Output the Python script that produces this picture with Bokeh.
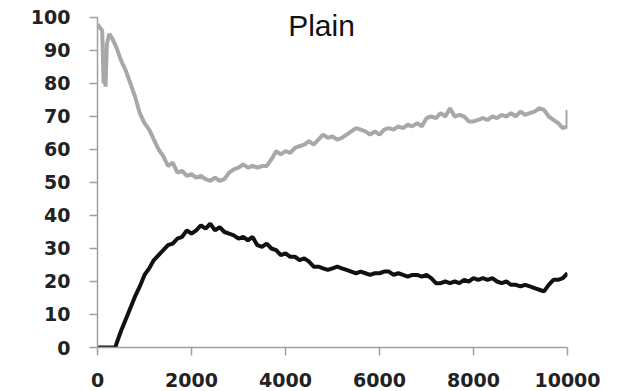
from bokeh.plotting import figure
from bokeh.models import Range1d, Label, FixedTicker
from bokeh.embed import file_html
from bokeh.resources import INLINE

title_text = "Plain"
x_ticks = [0, 2000, 4000, 6000, 8000, 10000]
y_ticks = [0, 10, 20, 30, 40, 50, 60, 70, 80, 90, 100]

gray_x = [0, 50, 100, 130, 150, 170, 200, 250, 300] + list(range(400, 10001, 100)) + [10000]
gray_y = [98, 97, 96, 80, 88, 79, 92, 95, 94,
          91, 87, 84, 80, 76, 71, 68, 66, 63, 60, 58, 55, 56, 53, 53.5, 52,
          52.5, 51.5, 52, 51, 50.5, 51.5, 50.5, 51, 53, 54, 54.5, 55.5, 54.5, 55, 54.5, 55,
          55, 57, 59.5, 58.5, 59.5, 59, 60.5, 61, 61.5, 62.5, 61.5, 63, 64.5, 63.5, 64,
          63, 63.5, 64.5, 65.5, 66.5, 66, 65.5, 64.5, 65.5, 64.5, 66, 66.5, 66, 67, 66.5,
          67.5, 67, 68, 67, 69.5, 70, 69.5, 71, 70, 72.5, 70, 70.5, 70, 68.5, 68.5,
          69, 69.5, 69, 70, 69.5, 70.5, 70, 71, 70, 71.5, 70.5, 71, 71.5, 72.5, 72,
          70, 69, 68, 66.5, 67, 72]

black_x = [0, 100, 200, 300, 380] + list(range(400, 10001, 100))
black_y = [0, 0, 0, 0, 0,
           1, 5, 8.5, 12, 15.5, 18.5, 22, 24, 26.5, 28, 29.5, 31, 31.5, 33, 33.5, 35.5,
           34.5, 35.5, 37, 36, 37.5, 35.5, 36.5, 35, 34.5, 34, 33, 33.5, 32.5, 33.5, 31,
           30.5, 31.5, 30, 29.5, 28, 28.5, 27.5, 27.5, 26.5, 27, 26, 24.5, 24.5, 24, 23.5,
           24, 24.5, 24, 23.5, 23, 22.5, 23, 22.5, 22, 22.5, 22.5, 23, 23, 22, 22.5,
           22, 21.5, 22, 22, 21.5, 22, 21, 19.5, 19.5, 20, 19.5, 20, 19.5, 20.5, 20,
           21, 20.5, 21, 20.5, 21, 20, 19.5, 20, 19, 19, 18.5, 19, 18.5, 18, 17.5,
           17, 19, 20.5, 20.5, 21, 22.5]

p = figure(width=622, height=391, output_backend="svg", toolbar_location=None,
           x_range=Range1d(0, 10000), y_range=Range1d(0, 102.12),
           min_border_left=97, min_border_right=55, min_border_top=10, min_border_bottom=44)
p.outline_line_color = None
p.xgrid.visible = False
p.ygrid.visible = False
p.background_fill_color = "white"
p.border_fill_color = "white"

p.line(gray_x, gray_y, line_color="#a8a8a8", line_width=4)
p.line(black_x, black_y, line_color="#111111", line_width=4)

for ax, ticks, standoff, bnds in ((p.xaxis[0], x_ticks, 17, (0, 10000)),
                                  (p.yaxis[0], y_ticks, 19, (0, 100))):
    ax.ticker = FixedTicker(ticks=ticks)
    ax.bounds = bnds
    ax.axis_line_color = "#a0a0a0"
    ax.axis_line_width = 1.5
    ax.major_tick_line_color = "#a0a0a0"
    ax.major_tick_line_width = 1.5
    ax.major_tick_out = 8
    ax.major_tick_in = 0
    ax.minor_tick_line_color = None
    ax.major_label_text_font = "DejaVu Sans"
    ax.major_label_text_font_style = "bold"
    ax.major_label_text_font_size = "19px"
    ax.major_label_text_color = "#222222"
    ax.major_label_standoff = standoff

p.add_layout(Label(x=4766, y=97.5, text=title_text, text_align="center",
                   text_baseline="alphabetic", text_font="Liberation Sans",
                   text_font_size="30px", text_color="#111111"))

open("out.html", "w").write(file_html(p, INLINE))
